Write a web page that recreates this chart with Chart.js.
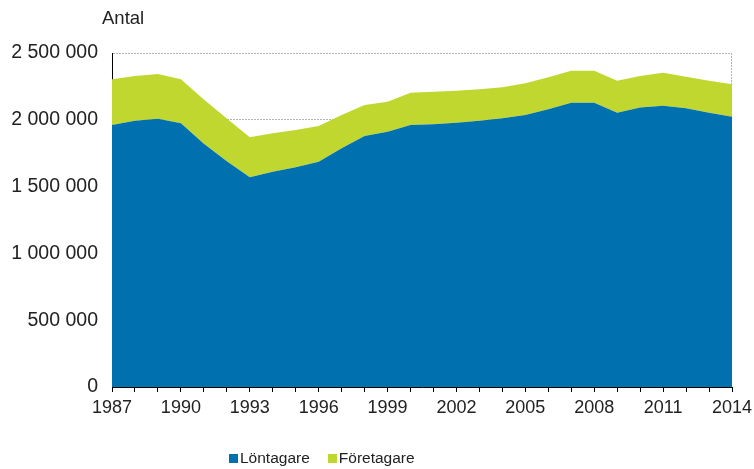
<!DOCTYPE html>
<html>
<head>
<meta charset="utf-8">
<script src="https://cdn.jsdelivr.net/npm/chart.js@4/dist/chart.umd.min.js"></script>
<style>
  html, body { margin: 0; padding: 0; background: #fff; }
  #wrap { position: relative; width: 754px; height: 469px; }
  #unit { position: absolute; left: 102px; top: 7px; font: 18.5px "Liberation Sans", Arial, sans-serif; color: #222; }
  #legend { position: absolute; top: 449px; left: 229px; font: 15.5px "Liberation Sans", Arial, sans-serif; color: #222; display: flex; }
  .item { display: flex; align-items: center; margin-right: 18px; }
  .box { width: 9px; height: 9px; margin-right: 2px; }
</style>
</head>
<body>
<div id="wrap">
  <canvas id="c" width="754" height="469"></canvas>
  <div id="unit">Antal</div>
  <div id="legend"></div>
</div>
<script>
const years = [1987,1988,1989,1990,1991,1992,1993,1994,1995,1996,1997,1998,1999,2000,
               2001,2002,2003,2004,2005,2006,2007,2008,2009,2010,2011,2012,2013,2014];
const lontagare = [1961000,1993000,2008000,1974000,1820000,1690000,1570000,1612000,1644000,1686000,
                   1787000,1879000,1911000,1961000,1966000,1978000,1993000,2011000,2036000,2079000,
                   2128000,2128000,2053000,2093000,2106000,2086000,2053000,2023000];
const foretagare = [342000,335000,335000,329000,332000,320000,299000,287000,280000,268000,
                    249000,232000,225000,242000,244000,240000,235000,232000,237000,239000,
                    240000,240000,240000,235000,247000,237000,240000,243000];
const seriesNames = ["Löntagare", "Företagare"];
const seriesColors = ["#0070af", "#c0d72f"];
const yTicks = [0, 500000, 1000000, 1500000, 2000000, 2500000];

const fmt = v => String(v).replace(/\B(?=(\d{3})+(?!\d))/g, " ");
const fam = '"Liberation Sans", Arial, sans-serif';
const gridColor = '#b4b4b4';

// dotted right-hand frame line of the plot area, drawn under the areas
const frameRight = {
  id: 'frameRight',
  beforeDatasetsDraw(chart) {
    const { ctx, chartArea: a } = chart;
    ctx.save();
    ctx.strokeStyle = gridColor;
    ctx.lineWidth = 1;
    ctx.setLineDash([2, 1]);
    ctx.beginPath();
    ctx.moveTo(Math.round(a.right) - 0.5, a.top);
    ctx.lineTo(Math.round(a.right) - 0.5, a.bottom);
    ctx.stroke();
    ctx.restore();
  }
};

new Chart(document.getElementById('c'), {
  type: 'line',
  data: {
    labels: years.map(String),
    datasets: [
      { label: seriesNames[0], data: lontagare, backgroundColor: seriesColors[0], borderColor: seriesColors[0],
        borderWidth: 0, pointRadius: 0, fill: 'origin', tension: 0 },
      { label: seriesNames[1], data: foretagare, backgroundColor: seriesColors[1], borderColor: seriesColors[1],
        borderWidth: 0, pointRadius: 0, fill: '-1', tension: 0 }
    ]
  },
  options: {
    responsive: false,
    animation: false,
    layout: { padding: { left: 0, right: 22, top: 53, bottom: 0 } },
    plugins: { legend: { display: false }, tooltip: { enabled: false } },
    scales: {
      x: {
        offset: false,
        grid: {
          drawOnChartArea: false,
          tickColor: '#000',
          tickLength: 5,
          lineWidth: 1
        },
        border: { display: true, color: '#000', width: 1 },
        ticks: {
          autoSkip: false, maxRotation: 0, color: '#222', font: { family: fam, size: 18 }, padding: 5,
          callback: function(v, i) { return (years[i] - 1987) % 3 === 0 ? String(years[i]) : ''; }
        },
        afterFit: s => { s.height = 82; s.paddingRight = 0; s.paddingLeft = 0; }
      },
      y: {
        stacked: true,
        min: 0, max: 2500000,
        afterBuildTicks: s => { s.ticks = yTicks.map(v => ({ value: v })); },
        grid: { display: true, drawOnChartArea: true, color: gridColor, drawTicks: false, lineWidth: 1 },
        border: { display: true, color: '#000', width: 1, dash: [2, 1] },
        ticks: { color: '#222', font: { family: fam, size: 19.5 }, padding: 14, callback: v => fmt(v) },
        afterFit: s => { s.width = 112; s.paddingTop = 0; s.paddingBottom = 0; }
      }
    }
  },
  plugins: [frameRight]
});

const lg = document.getElementById('legend');
seriesNames.forEach((n, i) => {
  const it = document.createElement('div'); it.className = 'item';
  const b = document.createElement('div'); b.className = 'box'; b.style.background = seriesColors[i];
  const t = document.createElement('span'); t.textContent = n;
  it.appendChild(b); it.appendChild(t); lg.appendChild(it);
});
</script>
</body>
</html>
